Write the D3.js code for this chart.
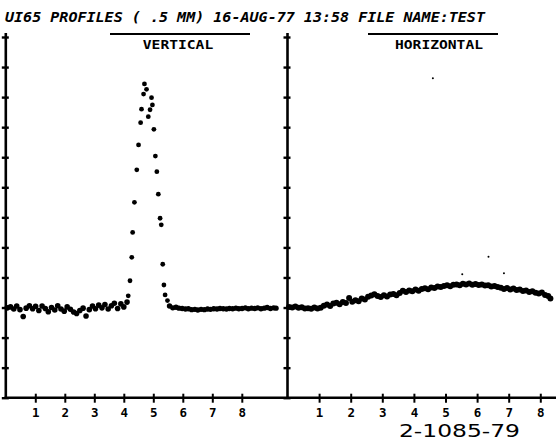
<!DOCTYPE html>
<html lang="en">
<head>
  <meta charset="utf-8">
  <title>UI65 profiles</title>
  <script src="https://d3js.org/d3.v7.min.js"></script>
  <style>
  body { margin: 0; background: #fff; }
  svg { display: block; }
  .mono { font-family: "DejaVu Sans Mono", monospace; font-weight: bold; }
  </style>
</head>
<body>
  <script>
  var header = "UI65 PROFILES ( .5 MM)  16-AUG-77 13:58  FILE  NAME:TEST";
  var panelTitles = ["VERTICAL", "HORIZONTAL"];
  var figureId = "2-1085-79";
  var xTicks = [1, 2, 3, 4, 5, 6, 7, 8];
  var yTicks = [0, 1, 2, 3, 4, 5, 6, 7, 8, 9, 10, 11, 12];

  // vertical profile: noisy floor left of the peak, the peak, flat floor after it
  var vertLeft = [
    [0.05, 2.99], [0.16, 3.02], [0.27, 2.95], [0.37, 3.05], [0.48, 2.93], [0.59, 2.70],
    [0.69, 2.98], [0.80, 3.06], [0.91, 2.96], [1.01, 3.04], [1.12, 2.90], [1.23, 3.05],
    [1.34, 2.97], [1.44, 2.86], [1.55, 3.00], [1.66, 2.92], [1.76, 3.06], [1.87, 2.95],
    [1.98, 2.88], [2.08, 3.02], [2.19, 2.94], [2.30, 2.85], [2.40, 2.80], [2.51, 2.90],
    [2.62, 2.98], [2.72, 2.72], [2.83, 2.93], [2.94, 3.05], [3.04, 2.96], [3.15, 3.08],
    [3.26, 2.99], [3.36, 3.10], [3.47, 2.95], [3.58, 3.06], [3.68, 3.14], [3.79, 2.97],
    [3.90, 3.12], [4.00, 3.02], [4.11, 3.18]
  ];
  var vertPeak = [
    [4.15, 3.39], [4.21, 3.89], [4.27, 4.67], [4.30, 5.50], [4.36, 6.50], [4.44, 7.58],
    [4.50, 8.41], [4.57, 9.15], [4.60, 9.60], [4.67, 10.10], [4.70, 10.44], [4.77, 10.26],
    [4.83, 9.35], [4.89, 9.58], [4.94, 9.98], [4.97, 9.74], [5.02, 8.93], [5.07, 8.04],
    [5.12, 7.52], [5.17, 6.77], [5.23, 5.97], [5.27, 5.75], [5.32, 4.44], [5.36, 3.75],
    [5.40, 3.42], [5.48, 3.23]
  ];
  var vertRight = [
    [5.55, 3.05], [5.66, 2.99], [5.77, 3.01], [5.87, 2.98], [5.98, 2.97], [6.09, 2.95],
    [6.19, 2.96], [6.30, 2.93], [6.41, 2.94], [6.51, 2.92], [6.62, 2.94], [6.73, 2.93],
    [6.84, 2.95], [6.94, 2.94], [7.05, 2.96], [7.16, 2.95], [7.26, 2.97], [7.37, 2.96],
    [7.48, 2.95], [7.58, 2.97], [7.69, 2.96], [7.80, 2.98], [7.90, 2.96], [8.01, 2.97],
    [8.12, 2.99], [8.22, 2.96], [8.33, 2.98], [8.44, 2.97], [8.54, 2.99], [8.65, 2.96],
    [8.76, 2.98], [8.86, 3.00], [8.97, 2.97], [9.08, 2.99], [9.16, 2.98]
  ];

  // horizontal profile: slow broad hump
  var horiz = [
    [0.05, 3.02], [0.15, 3.00], [0.25, 3.03], [0.35, 2.99], [0.45, 3.01], [0.55, 2.97],
    [0.65, 2.98], [0.75, 2.96], [0.85, 3.00], [0.95, 2.97], [1.05, 2.99], [1.15, 3.06],
    [1.25, 3.10], [1.35, 3.05], [1.45, 3.13], [1.55, 3.16], [1.65, 3.11], [1.75, 3.18],
    [1.85, 3.15], [1.95, 3.32], [2.05, 3.19], [2.15, 3.24], [2.25, 3.21], [2.35, 3.30],
    [2.45, 3.27], [2.55, 3.36], [2.65, 3.40], [2.75, 3.44], [2.85, 3.38], [2.95, 3.35],
    [3.05, 3.41], [3.15, 3.37], [3.25, 3.43], [3.35, 3.45], [3.45, 3.41], [3.55, 3.48],
    [3.65, 3.56], [3.75, 3.52], [3.85, 3.57], [3.95, 3.54], [4.05, 3.60], [4.15, 3.56],
    [4.25, 3.62], [4.35, 3.64], [4.45, 3.61], [4.55, 3.67], [4.65, 3.65], [4.75, 3.70],
    [4.85, 3.68], [4.95, 3.72], [5.05, 3.74], [5.15, 3.71], [5.25, 3.76], [5.35, 3.77],
    [5.45, 3.74], [5.55, 3.79], [5.65, 3.77], [5.75, 3.80], [5.85, 3.76], [5.95, 3.78],
    [6.05, 3.75], [6.15, 3.77], [6.25, 3.73], [6.35, 3.74], [6.45, 3.70], [6.55, 3.72],
    [6.65, 3.68], [6.75, 3.66], [6.85, 3.62], [6.95, 3.65], [7.05, 3.60], [7.15, 3.63],
    [7.25, 3.58], [7.35, 3.60], [7.45, 3.55], [7.55, 3.57], [7.65, 3.52], [7.75, 3.54],
    [7.85, 3.49], [7.95, 3.47], [8.05, 3.50], [8.15, 3.42], [8.25, 3.38], [8.32, 3.30]
  ];
  var horizStray = [[4.60, 10.63], [5.53, 4.11], [6.36, 4.69], [6.85, 4.14]];

  var width = 556, height = 441;
  var svg = d3.select("body").append("svg")
    .attr("width", width)
    .attr("height", height);

  var xL = d3.scaleLinear().domain([0, 1]).range([5.8, 5.8 + 29.5]);
  var xR = d3.scaleLinear().domain([0, 1]).range([287.5, 287.5 + 31.6]);
  var y = d3.scaleLinear().domain([0, 12]).range([397.7, 37]);

  var ink = "#000";

  // header
  svg.append("text")
    .attr("class", "mono")
    .attr("x", 5)
    .attr("y", 21.5)
    .attr("font-size", 14)
    .attr("font-style", "italic")
    .attr("textLength", 480)
    .attr("lengthAdjust", "spacingAndGlyphs")
    .text(header);

  // panel titles with bar above
  var titleX = [178, 439];
  var barX = [[110, 250], [368, 498]];
  panelTitles.forEach(function(t, i) {
    var w = t.length * 8.8;
    svg.append("line")
      .attr("x1", barX[i][0])
      .attr("x2", barX[i][1])
      .attr("y1", 34)
      .attr("y2", 34)
      .attr("stroke", ink)
      .attr("stroke-width", 2);
    svg.append("text")
      .attr("class", "mono")
      .attr("x", titleX[i])
      .attr("y", 49)
      .attr("font-size", 13)
      .attr("text-anchor", "middle")
      .attr("textLength", w)
      .attr("lengthAdjust", "spacingAndGlyphs")
      .text(t);
  });

  // y axes: left edge and the panel divider
  [xL(0), xR(0)].forEach(function(ax) {
    var g = svg.append("g").attr("transform", "translate(" + ax + ",0)");
    g.call(d3.axisLeft(y).tickValues(yTicks).tickFormat("").tickSize(4));
    g.select(".domain").remove();
    g.selectAll(".tick line")
      .attr("x1", 3)
      .attr("stroke", ink)
      .attr("stroke-width", 2.4);
    g.append("line")
      .attr("x1", 0).attr("x2", 0)
      .attr("y1", 33).attr("y2", y(0))
      .attr("stroke", ink)
      .attr("stroke-width", 2.6);
  });

  // x axes
  svg.append("line")
    .attr("x1", xL(0) - 1.3)
    .attr("x2", width)
    .attr("y1", y(0))
    .attr("y2", y(0))
    .attr("stroke", ink)
    .attr("stroke-width", 2.6);

  [xL, xR].forEach(function(sc) {
    var g = svg.append("g").attr("transform", "translate(0," + y(0) + ")");
    g.call(d3.axisBottom(sc).tickValues(xTicks).tickFormat(d3.format("d"))
      .tickSize(5).tickPadding(5));
    g.select(".domain").remove();
    g.selectAll(".tick line")
      .attr("y1", -4)
      .attr("stroke", ink)
      .attr("stroke-width", 2);
    g.selectAll(".tick text")
      .attr("class", "mono")
      .attr("font-size", 12.5)
      .attr("fill", ink);
  });

  // data
  function dots(data, sc, r) {
    svg.append("g").selectAll("circle")
      .data(data)
      .enter().append("circle")
      .attr("cx", function(d) { return sc(d[0]); })
      .attr("cy", function(d) { return y(d[1]); })
      .attr("r", r)
      .attr("fill", ink);
  }
  dots(vertLeft, xL, 2.8);
  dots(vertPeak, xL, 2.4);
  dots(vertRight, xL, 2.7);
  dots(horiz, xR, 3);
  dots(horizStray, xR, 1);

  svg.append("text")
    .attr("x", 399)
    .attr("y", 437)
    .attr("font-family", "DejaVu Sans, sans-serif")
    .attr("font-size", 17.5)
    .attr("textLength", 121)
    .attr("lengthAdjust", "spacingAndGlyphs")
    .attr("fill", ink)
    .text(figureId);
  </script>
</body>
</html>
